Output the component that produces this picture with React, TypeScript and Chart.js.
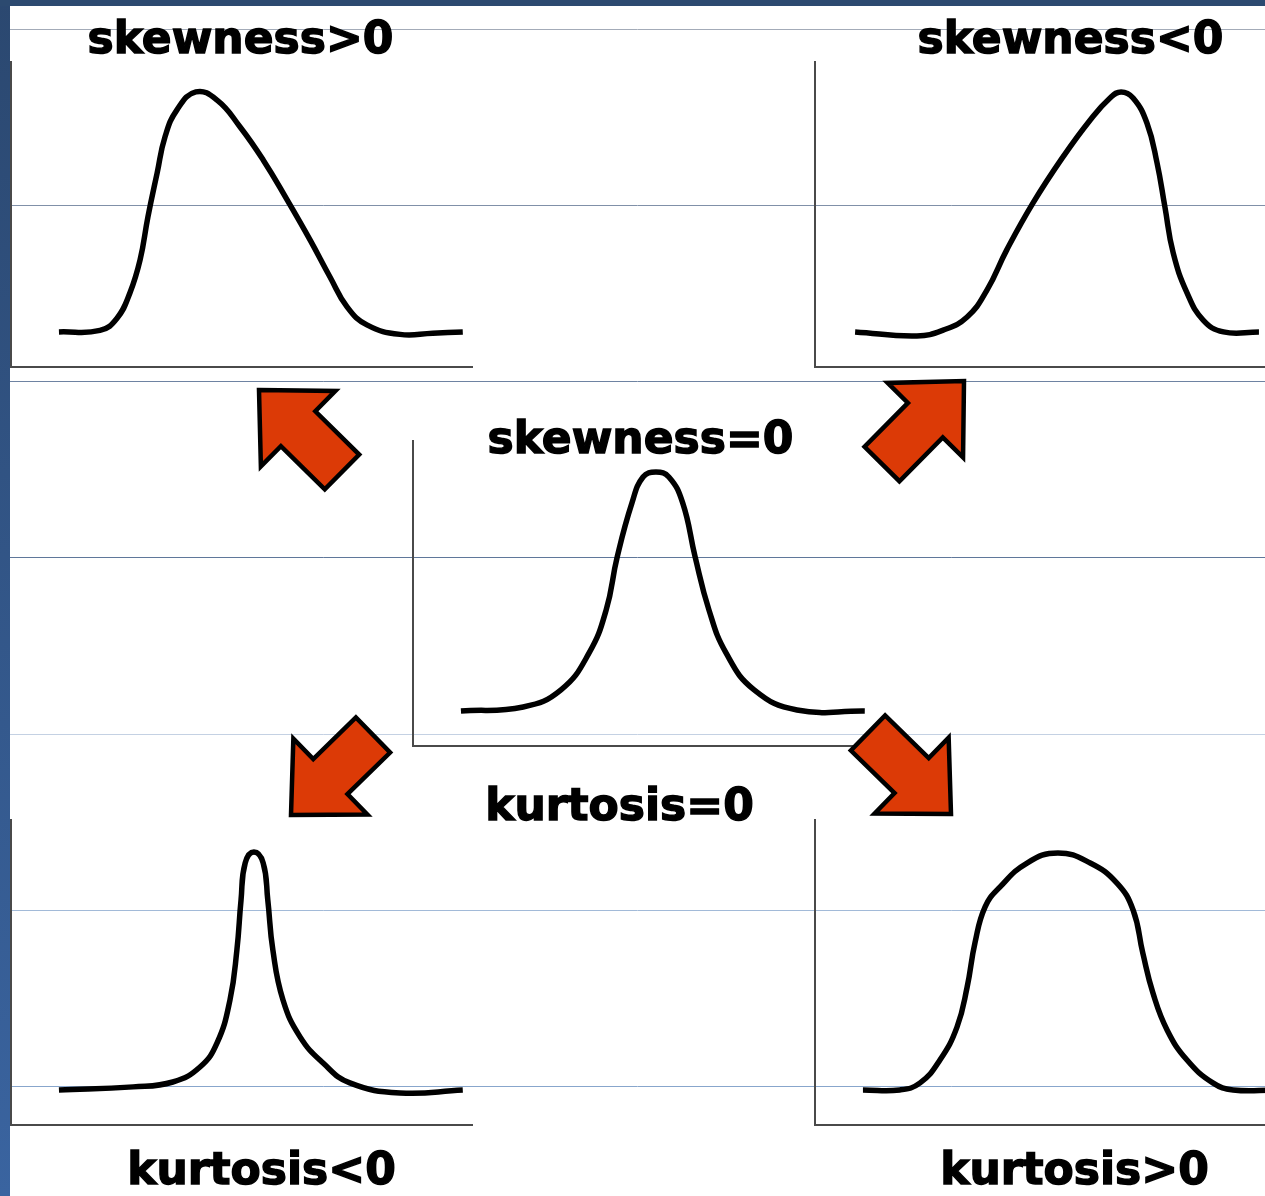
import React, { useEffect, useRef } from "react";
import { Chart, registerables } from "chart.js";

Chart.register(...registerables);

// ---------------- DATA (x: % of panel width, y: % of panel height) ----------------
const SKEW_POS_X = [10.4, 19.3, 23.0, 25.8, 28.0, 29.7, 31.7, 33.4, 36.0, 40.1, 44.7, 49.7, 54.7, 59.9, 64.9, 69.2, 72.9, 77.2, 84.4, 91.5, 98.0];
const SKEW_POS_Y = [11.5, 12.0, 16.0, 24.3, 35.1, 49.2, 63.6, 75.4, 84.3, 90.2, 87.5, 78.7, 67.9, 54.8, 41.6, 29.5, 19.7, 13.8, 10.7, 11.1, 11.5];

const SKEW_NEG_X = [8.7, 22.1, 27.8, 33.0, 37.3, 41.6, 47.3, 53.8, 59.7, 64.0, 66.4, 69.0, 72.0, 74.2, 75.9, 77.7, 80.7, 84.2, 88.6, 96.3];
const SKEW_NEG_Y = [11.5, 10.2, 12.1, 16.4, 25.2, 38.4, 53.8, 68.9, 81.0, 88.2, 90.2, 88.2, 80.0, 66.9, 52.5, 37.4, 24.3, 15.4, 11.5, 11.5];

const NORMAL_X = [10.4, 23.9, 32.1, 38.2, 41.9, 44.3, 47.5, 49.9, 52.7, 55.5, 58.5, 61.2, 64.2, 67.9, 74.0, 83.3, 98.0];
const NORMAL_Y = [11.5, 12.8, 18.4, 30.5, 44.6, 62.0, 79.7, 88.2, 89.8, 88.2, 79.7, 62.0, 44.6, 30.5, 18.4, 11.8, 11.5];

const KURT_NEG_X = [10.4, 26.5, 35.1, 41.0, 44.7, 47.5, 49.0, 49.9, 50.8, 52.7, 54.7, 55.7, 56.8, 59.0, 62.7, 67.7, 73.5, 84.4, 98.0];
const KURT_NEG_Y = [11.5, 12.5, 14.1, 19.0, 26.9, 41.0, 57.4, 73.8, 85.9, 89.5, 85.9, 73.8, 57.4, 41.0, 28.9, 20.3, 13.8, 10.5, 11.5];

const KURT_POS_X = [10.4, 18.4, 22.8, 27.1, 30.8, 33.0, 34.7, 36.9, 40.1, 46.0, 52.7, 59.7, 65.5, 69.0, 71.1, 73.3, 76.4, 80.7, 86.3, 90.7, 100];
const KURT_POS_Y = [11.5, 11.5, 13.8, 21.3, 32.1, 45.2, 59.7, 71.5, 78.0, 85.9, 89.2, 85.9, 79.3, 70.5, 56.4, 43.3, 31.1, 21.3, 13.8, 11.5, 11.5];

const LABEL_TEXTS = ["skewness>0", "skewness<0", "skewness=0", "kurtosis=0", "kurtosis<0", "kurtosis>0"];

// ---------------- LAYOUT ----------------
const PAGE_W = 1265;
const PAGE_H = 1196;
const BOX_W = 461;
const BOX_H = 305;
const MARGIN = 14;
const AXIS_COLOR = "#4a4a4a";
const CURVE_COLOR = "#000000";
const ARROW_FILL = "#dc3a06";

const LABEL_POS = [
  { cx: 240.5, base: 53 },
  { cx: 1070.5, base: 53 },
  { cx: 640.5, base: 453 },
  { cx: 619.5, base: 820 },
  { cx: 261.5, base: 1184 },
  { cx: 1074.5, base: 1184 },
];

const RULE_Y = [29, 205, 381, 557, 734, 910, 1086];
const RULE_COLORS = ["#a3abb8", "#8090a8", "#6e83a2", "#5f779a", "#c4d1e3", "#a2bad8", "#88a6cc"];

const ARROW_TIPS = [[259, 390], [964, 381], [291, 815], [951, 814]];
const ARROW_TAILS = [[342, 472], [882, 464], [373, 735], [868, 733]];
const HEAD_LEN = 55;
const HEAD_HALF = 53;
const SHAFT_HALF = 24.5;

const CENTER_BOX = { left: 413, top: 441 };

const PANELS = [
  { xs: SKEW_POS_X, ys: SKEW_POS_Y, left: 11, top: 62 },
  { xs: SKEW_NEG_X, ys: SKEW_NEG_Y, left: 815, top: 62 },
  { xs: KURT_NEG_X, ys: KURT_NEG_Y, left: 11, top: 820 },
  { xs: KURT_POS_X, ys: KURT_POS_Y, left: 815, top: 820 },
];

function axisScale() {
  return {
    type: "linear" as const,
    min: 0,
    max: 100,
    ticks: { display: false },
    grid: { display: false, drawTicks: false },
    border: { display: true, color: AXIS_COLOR, width: 2 },
  };
}

function makeConfig(xs: number[], ys: number[], padding: any, plugins: any[] = []) {
  return {
    type: "line" as const,
    data: {
      datasets: [
        {
          data: xs.map((x, i) => ({ x, y: ys[i] })),
          borderColor: CURVE_COLOR,
          borderWidth: 5.5,
          pointRadius: 0,
          fill: false,
          tension: 0.45,
          borderCapStyle: "butt" as const,
          borderJoinStyle: "round" as const,
        },
      ],
    },
    options: {
      animation: false as const,
      responsive: false,
      events: [],
      layout: { padding },
      plugins: {
        legend: { display: false },
        tooltip: { enabled: false },
        title: { display: false },
      },
      scales: { x: axisScale(), y: axisScale() },
    },
    plugins,
  };
}

const pageDecor = {
  id: "pageDecor",
  beforeDraw(chart: any) {
    const ctx = chart.ctx as CanvasRenderingContext2D;
    ctx.save();
    ctx.fillStyle = "#ffffff";
    ctx.fillRect(0, 0, PAGE_W, PAGE_H);
    RULE_Y.forEach((y, i) => {
      ctx.strokeStyle = RULE_COLORS[i];
      ctx.lineWidth = 1;
      ctx.beginPath();
      ctx.moveTo(10, y + 0.5);
      ctx.lineTo(PAGE_W, y + 0.5);
      ctx.stroke();
    });
    const g = ctx.createLinearGradient(0, 0, 0, PAGE_H);
    g.addColorStop(0, "#2b4870");
    g.addColorStop(1, "#3a64a0");
    ctx.fillStyle = g;
    ctx.fillRect(0, 0, 10, PAGE_H);
    ctx.fillStyle = "#2c4a70";
    ctx.fillRect(0, 0, PAGE_W, 6);
    ctx.restore();
  },
  afterDraw(chart: any) {
    const ctx = chart.ctx as CanvasRenderingContext2D;
    ctx.save();
    ARROW_TIPS.forEach((t, i) => {
      const c = ARROW_TAILS[i];
      const dx = t[0] - c[0];
      const dy = t[1] - c[1];
      const L = Math.hypot(dx, dy);
      const ux = dx / L;
      const uy = dy / L;
      const nx = -uy;
      const ny = ux;
      const bx = t[0] - ux * HEAD_LEN;
      const by = t[1] - uy * HEAD_LEN;
      const pts = [
        [t[0], t[1]],
        [bx + nx * HEAD_HALF, by + ny * HEAD_HALF],
        [bx + nx * SHAFT_HALF, by + ny * SHAFT_HALF],
        [c[0] + nx * SHAFT_HALF, c[1] + ny * SHAFT_HALF],
        [c[0] - nx * SHAFT_HALF, c[1] - ny * SHAFT_HALF],
        [bx - nx * SHAFT_HALF, by - ny * SHAFT_HALF],
        [bx - nx * HEAD_HALF, by - ny * HEAD_HALF],
      ];
      ctx.beginPath();
      pts.forEach((p, k) => (k === 0 ? ctx.moveTo(p[0], p[1]) : ctx.lineTo(p[0], p[1])));
      ctx.closePath();
      ctx.fillStyle = ARROW_FILL;
      ctx.fill();
      ctx.lineWidth = 4.5;
      ctx.lineJoin = "miter";
      ctx.strokeStyle = "#000000";
      ctx.stroke();
    });
    ctx.restore();
  },
};

function ChartCanvas(props: { left: number; top: number; width: number; height: number; build: () => any }) {
  const ref = useRef<HTMLCanvasElement | null>(null);
  useEffect(() => {
    if (!ref.current) return;
    const chart = new Chart(ref.current, props.build());
    return () => chart.destroy();
  }, []);
  return (
    <canvas
      ref={ref}
      width={props.width}
      height={props.height}
      style={{ position: "absolute", left: props.left, top: props.top, width: props.width, height: props.height }}
    />
  );
}

export default function App() {
  useEffect(() => {
    document.body.style.margin = "0";
    document.body.style.overflow = "hidden";
  }, []);

  const centerPadding = {
    left: CENTER_BOX.left,
    top: CENTER_BOX.top,
    right: PAGE_W - (CENTER_BOX.left + BOX_W),
    bottom: PAGE_H - (CENTER_BOX.top + BOX_H),
  };

  return (
    <div style={{ position: "relative", width: PAGE_W, height: PAGE_H, overflow: "hidden", background: "#fff" }}>
      <ChartCanvas
        left={0}
        top={0}
        width={PAGE_W}
        height={PAGE_H}
        build={() => makeConfig(NORMAL_X, NORMAL_Y, centerPadding, [pageDecor])}
      />
      {PANELS.map((p, i) => (
        <ChartCanvas
          key={i}
          left={p.left - MARGIN}
          top={p.top - MARGIN}
          width={BOX_W + 2 * MARGIN}
          height={BOX_H + 2 * MARGIN}
          build={() => makeConfig(p.xs, p.ys, MARGIN)}
        />
      ))}
      {LABEL_TEXTS.map((t, i) => (
        <div
          key={t}
          style={{
            position: "absolute",
            left: LABEL_POS[i].cx,
            top: LABEL_POS[i].base - 37.2,
            transform: "translateX(-50%)",
            fontFamily: '"DejaVu Sans", sans-serif',
            fontWeight: "bold",
            fontSize: 44,
            lineHeight: "44px",
            whiteSpace: "nowrap",
            color: "#000",
            WebkitTextStroke: "1.4px #000",
          }}
        >
          {t}
        </div>
      ))}
    </div>
  );
}
